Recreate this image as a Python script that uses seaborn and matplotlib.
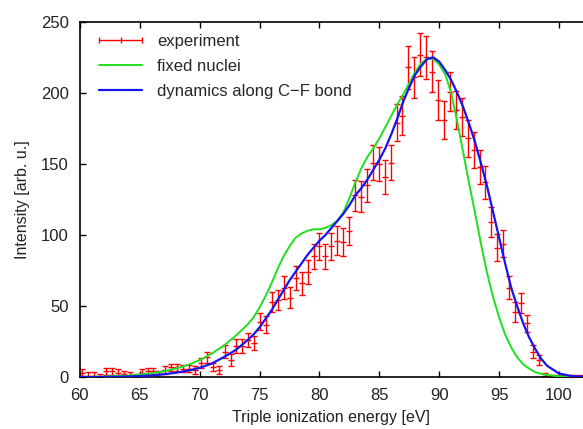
import matplotlib
matplotlib.use("Agg")
import matplotlib.pyplot as plt
import seaborn as sns
import pandas as pd
from matplotlib.lines import Line2D

# experiment (energy in eV, intensity, error)
energy_exp = [60.20, 60.70, 61.19, 61.69, 62.18, 62.68, 63.17, 63.67, 64.16, 64.66,
              65.15, 65.65, 66.14, 66.64, 67.13, 67.63, 68.12, 68.62, 69.11, 69.61,
              70.10, 70.60, 71.09, 71.59, 72.08, 72.58, 73.07, 73.57, 74.06, 74.56,
              75.05, 75.55, 76.04, 76.54, 77.03, 77.53, 78.02, 78.52, 79.01, 79.51,
              80.00, 80.50, 80.99, 81.49, 81.98, 82.48, 82.97, 83.47, 83.96, 84.46,
              84.95, 85.45, 85.94, 86.44, 86.93, 87.43, 87.92, 88.42, 88.91, 89.41,
              89.90, 90.40, 90.89, 91.39, 91.88, 92.38, 92.87, 93.37, 93.86, 94.36,
              94.85, 95.35, 95.84, 96.34, 96.83, 97.33, 97.82, 98.32, 98.81, 99.31,
              99.80, 100.30, 100.79, 101.29, 101.78]
intensity_exp = [3, 1, 1, 0, 4, 4, 3, 2, 1, 0,
                 3, 4, 4, 2, 5, 7, 7, 6, 6, 5,
                 10, 14, 7, 5, 18, 12, 22, 22, 26, 24,
                 39, 37, 53, 54, 63, 56, 70, 66, 74, 85,
                 92, 85, 92, 96, 95, 103, 128, 127, 135, 151,
                 150, 141, 151, 179, 184, 218, 211, 227, 225, 215,
                 195, 181, 201, 188, 183, 168, 160, 148, 137, 109,
                 91, 94, 63, 46, 52, 38, 18, 12, 1, 0,
                 0, 0, 0, 0, 0]
error_exp = [2.5, 2.5, 2.5, 2.5, 2.5, 2.5, 2.5, 2.5, 2.5, 2.5,
             2.5, 2.5, 2.5, 2.5, 2.5, 2.5, 2.5, 2.5, 2.5, 2.5,
             3.5, 4, 3, 3, 4.5, 4, 5, 5, 5, 5,
             6, 6, 7, 7, 8, 7.5, 8.5, 8, 8.5, 9,
             9.5, 9, 9.5, 10, 10, 10, 11, 11, 11.5, 12,
             12, 12, 12, 13, 13.5, 15, 14.5, 15, 15, 14.5,
             14, 13.5, 14, 13.5, 13.5, 13, 12.5, 12, 11.5, 10.5,
             9.5, 9.5, 8, 7, 7, 6, 4.5, 3.5, 2, 1.5,
             1.5, 1.5, 1.5, 1.5, 1.5]

# calculated spectra
energy_model = [60, 61, 62, 63, 64, 65, 66, 67, 68, 69,
                70, 71, 72, 73, 74, 74.5, 75, 75.5, 76, 76.5,
                77, 77.5, 78, 78.5, 79, 79.5, 80, 80.5, 81, 81.5,
                82, 82.5, 83, 83.5, 84, 84.5, 85, 85.5, 86, 86.5,
                87, 87.5, 88, 88.5, 89, 89.5, 90, 90.5, 91, 91.5,
                92, 92.5, 93, 93.5, 94, 94.5, 95, 95.5, 96, 96.5,
                97, 97.5, 98, 98.5, 99, 100, 101, 102]
fixed_nuclei = [0.1, 0.2, 0.4, 0.7, 1.1, 1.8, 2.7, 4.0, 6.0, 8.5,
                12, 16.5, 22, 29, 37, 42, 49, 57, 66, 76,
                85, 92, 98, 101, 103, 104, 104, 105, 107, 110,
                116, 126, 137, 147, 155, 161, 168, 176, 184, 192,
                199, 207, 215, 221, 224, 224, 220, 213, 200, 180,
                158, 136, 115, 93, 73, 56, 42, 30, 21, 14,
                9, 6, 3.5, 2.3, 1.5, 0.6, 0.2, 0.1]
dynamics_cf = [0.0, 0.05, 0.1, 0.2, 0.4, 0.7, 1.2, 2.0, 3.0, 4.5,
               6.5, 9.5, 14, 19, 26, 30, 35, 41, 47, 54,
               61, 68, 74, 80, 86, 91, 96, 100, 105, 110,
               115, 121, 128, 133, 139, 146, 153, 161, 171, 182,
               194, 204, 213, 219, 224, 225, 222, 216, 209, 200,
               190, 178, 165, 150, 134, 116, 98, 80, 63, 50,
               38, 28, 20, 13, 8, 2.5, 0.8, 0.2]

red = "#ff0000"
green = "#1fe01f"
blue = "#1414f0"

sns.set_theme(style="ticks")
plt.rcParams["font.family"] = ["Liberation Sans", "DejaVu Sans"]

fig = plt.figure(figsize=(5.83, 4.29), dpi=100)
ax = fig.add_axes([0.137, 0.121, 0.863, 0.828])

df = pd.DataFrame({"energy": energy_model, "fixed": fixed_nuclei, "dyn": dynamics_cf})

ax.errorbar(energy_exp, intensity_exp, yerr=error_exp, fmt="_", color=red,
            ms=4, mew=1.0, elinewidth=1.0, capsize=2.0, capthick=1.0, zorder=2)
sns.lineplot(data=df, x="energy", y="fixed", color=green, lw=1.4, ax=ax, zorder=3)
sns.lineplot(data=df, x="energy", y="dyn", color=blue, lw=1.6, ax=ax, zorder=4)

ax.set_xlim(60, 102)
ax.set_ylim(0, 250)
ax.set_xticks([60, 65, 70, 75, 80, 85, 90, 95, 100])
ax.set_yticks([0, 50, 100, 150, 200, 250])
ax.tick_params(direction="in", length=4, width=1, labelsize=12, colors="black",
               top=True, right=False)
ax.tick_params(axis="x", pad=8)
ax.tick_params(axis="y", pad=8)
ax.tick_params(labelcolor="#222222")
for side in ["left", "bottom", "top"]:
    ax.spines[side].set_linewidth(1.2)
    ax.spines[side].set_color("black")
ax.spines["right"].set_visible(False)

ax.set_xlabel("Triple ionization energy [eV]", fontsize=11.5, color="#222222", labelpad=5)
ax.set_ylabel("Intensity [arb. u.]", fontsize=11.5, color="#222222", labelpad=8)

handles = [
    Line2D([], [], color=red, lw=1.0, marker="|", ms=5, mew=1.0),
    Line2D([], [], color=green, lw=1.4),
    Line2D([], [], color=blue, lw=1.6),
]
labels = ["experiment", "fixed nuclei", "dynamics along C\u2212F bond"]
ax.legend(handles, labels, loc="upper left", bbox_to_anchor=(0.005, 1.0),
          frameon=False, fontsize=12, numpoints=3, handlelength=3.2,
          handletextpad=0.6, labelspacing=0.62, borderaxespad=0.3)

fig.savefig("out.png", dpi=100)
